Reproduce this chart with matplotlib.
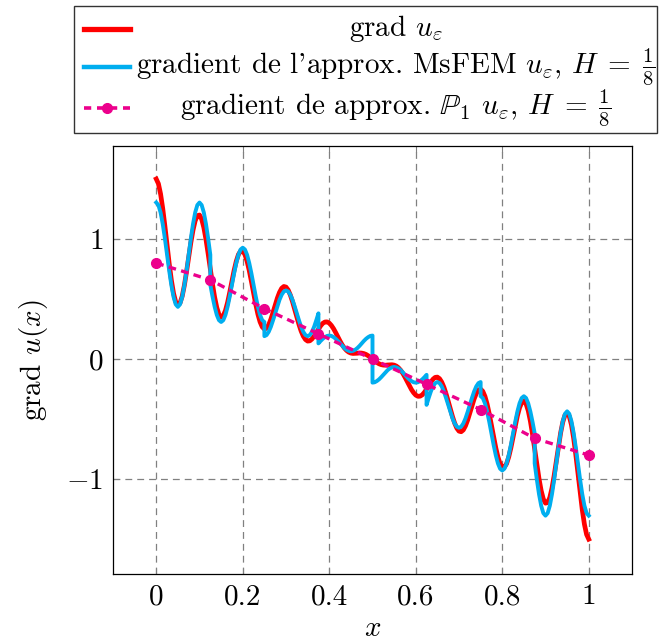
import matplotlib
matplotlib.use("Agg")
import matplotlib.pyplot as plt
import numpy as np
from matplotlib.lines import Line2D
from matplotlib.patches import Rectangle

plt.rcParams['font.family'] = ['cmr10']
plt.rcParams['mathtext.fontset'] = 'cm'
plt.rcParams['axes.formatter.use_mathtext'] = True

# grad u_eps, sampled every 0.005 on [0, 1]
grad_u = [
    1.500, 1.461, 1.376, 1.255, 1.108, 0.950, 0.795, 0.657, 0.548, 0.477,
    0.450, 0.467, 0.524, 0.614, 0.727, 0.850, 0.970, 1.074, 1.152, 1.195,
    1.200, 1.166, 1.096, 0.996, 0.877, 0.750, 0.626, 0.516, 0.429, 0.372,
    0.350, 0.362, 0.405, 0.473, 0.558, 0.650, 0.739, 0.815, 0.871, 0.900,
    0.900, 0.871, 0.815, 0.738, 0.647, 0.550, 0.457, 0.374, 0.310, 0.268,
    0.250, 0.257, 0.286, 0.332, 0.389, 0.450, 0.508, 0.556, 0.590, 0.605,
    0.600, 0.576, 0.534, 0.479, 0.416, 0.350, 0.288, 0.233, 0.191, 0.163,
    0.150, 0.152, 0.167, 0.191, 0.220, 0.250, 0.277, 0.298, 0.309, 0.310,
    0.300, 0.280, 0.253, 0.220, 0.185, 0.150, 0.118, 0.092, 0.072, 0.058,
    0.050, 0.047, 0.048, 0.049, 0.051, 0.050, 0.046, 0.039, 0.028, 0.015,
    0.000,
    -0.015, -0.028, -0.039, -0.046, -0.050, -0.051, -0.049, -0.048, -0.047, -0.050,
    -0.058, -0.072, -0.092, -0.118, -0.150, -0.185, -0.220, -0.253, -0.280, -0.300,
    -0.310, -0.309, -0.298, -0.277, -0.250, -0.220, -0.191, -0.167, -0.152, -0.150,
    -0.163, -0.191, -0.233, -0.288, -0.350, -0.416, -0.479, -0.534, -0.576, -0.600,
    -0.605, -0.590, -0.556, -0.508, -0.450, -0.389, -0.332, -0.286, -0.257, -0.250,
    -0.268, -0.310, -0.374, -0.457, -0.550, -0.647, -0.738, -0.815, -0.871, -0.900,
    -0.900, -0.871, -0.815, -0.739, -0.650, -0.558, -0.473, -0.405, -0.362, -0.350,
    -0.372, -0.429, -0.516, -0.626, -0.750, -0.877, -0.996, -1.096, -1.166, -1.200,
    -1.195, -1.152, -1.074, -0.970, -0.850, -0.727, -0.614, -0.524, -0.467, -0.450,
    -0.477, -0.548, -0.657, -0.795, -0.950, -1.108, -1.255, -1.376, -1.461, -1.500,
]

# MsFEM gradient, one list per coarse element (H = 1/8), 26 samples each
msfem_grad = [
    [1.304, 1.283, 1.221, 1.125, 1.004, 0.869, 0.735, 0.614, 0.518, 0.456,
     0.435, 0.456, 0.518, 0.614, 0.735, 0.869, 1.004, 1.125, 1.221, 1.283,
     1.304, 1.283, 1.221, 1.125, 1.004, 0.869],
    [0.619, 0.523, 0.437, 0.368, 0.324, 0.309, 0.324, 0.368, 0.437, 0.523,
     0.619, 0.714, 0.800, 0.869, 0.913, 0.928, 0.913, 0.869, 0.800, 0.714,
     0.619, 0.523, 0.437, 0.368, 0.324, 0.309],
    [0.191, 0.200, 0.227, 0.269, 0.323, 0.381, 0.440, 0.494, 0.536, 0.563,
     0.572, 0.563, 0.536, 0.494, 0.440, 0.381, 0.323, 0.269, 0.227, 0.200,
     0.191, 0.200, 0.227, 0.269, 0.323, 0.381],
    [0.131, 0.151, 0.169, 0.183, 0.193, 0.196, 0.193, 0.183, 0.169, 0.151,
     0.131, 0.110, 0.092, 0.078, 0.069, 0.065, 0.069, 0.078, 0.092, 0.110,
     0.131, 0.151, 0.169, 0.183, 0.193, 0.196],
    [-0.196, -0.193, -0.183, -0.169, -0.151, -0.131, -0.110, -0.092, -0.078, -0.069,
     -0.065, -0.069, -0.078, -0.092, -0.110, -0.131, -0.151, -0.169, -0.183, -0.193,
     -0.196, -0.193, -0.183, -0.169, -0.151, -0.131],
    [-0.381, -0.323, -0.269, -0.227, -0.200, -0.191, -0.200, -0.227, -0.269, -0.323,
     -0.381, -0.440, -0.494, -0.536, -0.563, -0.572, -0.563, -0.536, -0.494, -0.440,
     -0.381, -0.323, -0.269, -0.227, -0.200, -0.191],
    [-0.309, -0.324, -0.368, -0.437, -0.523, -0.619, -0.714, -0.800, -0.869, -0.913,
     -0.928, -0.913, -0.869, -0.800, -0.714, -0.619, -0.523, -0.437, -0.368, -0.324,
     -0.309, -0.324, -0.368, -0.437, -0.523, -0.619],
    [-0.869, -1.004, -1.125, -1.221, -1.283, -1.304, -1.283, -1.221, -1.125, -1.004,
     -0.869, -0.735, -0.614, -0.518, -0.456, -0.435, -0.456, -0.518, -0.614, -0.735,
     -0.869, -1.004, -1.125, -1.221, -1.283, -1.304],
]

# P1 approximation gradient at the coarse nodes
p1_nodes = [0, 0.125, 0.25, 0.375, 0.5, 0.625, 0.75, 0.875, 1]
p1_grad = [0.80, 0.66, 0.42, 0.21, 0.0, -0.21, -0.42, -0.66, -0.80]

labels = [r"grad $u_\varepsilon$",
          r"gradient de l'approx. MsFEM $u_\varepsilon$, $H\;=\;\frac{1}{8}$",
          r"gradient de approx. $\mathbb{P}_1$ $u_\varepsilon$, $H\;=\;\frac{1}{8}$"]

rouge = "#ff0000"
cyan = "#00aeef"
magenta = "#ec008c"
fs = 21

fig = plt.figure(figsize=(6.59, 6.42), dpi=100)
ax = fig.add_axes([113/659, 1 - 574/642, (632 - 113)/659, (574 - 146)/642])

x_fin = np.linspace(0, 1, len(grad_u))
ax.plot(x_fin, grad_u, color=rouge, lw=3.4, zorder=3)

xs, ys = [], []
for k, seg in enumerate(msfem_grad):
    xs.extend(np.linspace(k/8, (k+1)/8, len(seg)))
    ys.extend(seg)
ax.plot(xs, ys, color=cyan, lw=2.8, zorder=4)

ax.plot(p1_nodes, p1_grad, color=magenta, lw=2.4, dashes=(2.3, 1.6),
        marker='o', markersize=7, zorder=5)

ax.set_xlim(-0.1, 1.1)
ax.set_ylim(-1.79, 1.775)
ax.set_xticks([0, 0.2, 0.4, 0.6, 0.8, 1])
ax.set_xticklabels(["0", "0.2", "0.4", "0.6", "0.8", "1"])
ax.set_yticks([-1, 0, 1])
ax.set_yticklabels([r"$-1$", r"$0$", r"$1$"])
ax.grid(True, color="#808080", lw=0.9, linestyle=(0, (5.5, 4)))
ax.tick_params(direction='in', top=True, right=True, length=4, width=0.8,
               color="#808080", labelsize=fs, pad=7)
for s in ax.spines.values():
    s.set_linewidth(0.9)
ax.set_xlabel(r"$x$", fontsize=fs, labelpad=4)
ax.set_ylabel(r"grad $u(x)$", fontsize=fs, labelpad=12)

# legend drawn in figure coordinates
fig.patches.append(Rectangle((74/659, 1 - 133/642), (657 - 74)/659, (133 - 6)/642,
                             transform=fig.transFigure, fill=False,
                             edgecolor="#333333", lw=1.0))
rows = [29, 67, 108]
styles = [dict(color=rouge, lw=3.8),
          dict(color=cyan, lw=3.2),
          dict(color=magenta, lw=2.6, dashes=(2.0, 1.6))]
for r, st, lab in zip(rows, styles, labels):
    yf = 1 - r/642
    fig.lines.append(Line2D([84/659, 130/659], [yf, yf], transform=fig.transFigure, **st))
    fig.text(396/659, yf, lab, ha='center', va='center', fontsize=fs)
fig.lines.append(Line2D([107/659], [1 - 108/642], transform=fig.transFigure,
                        marker='o', markersize=7, color=magenta, lw=0))

plt.savefig("out.png", dpi=100)
